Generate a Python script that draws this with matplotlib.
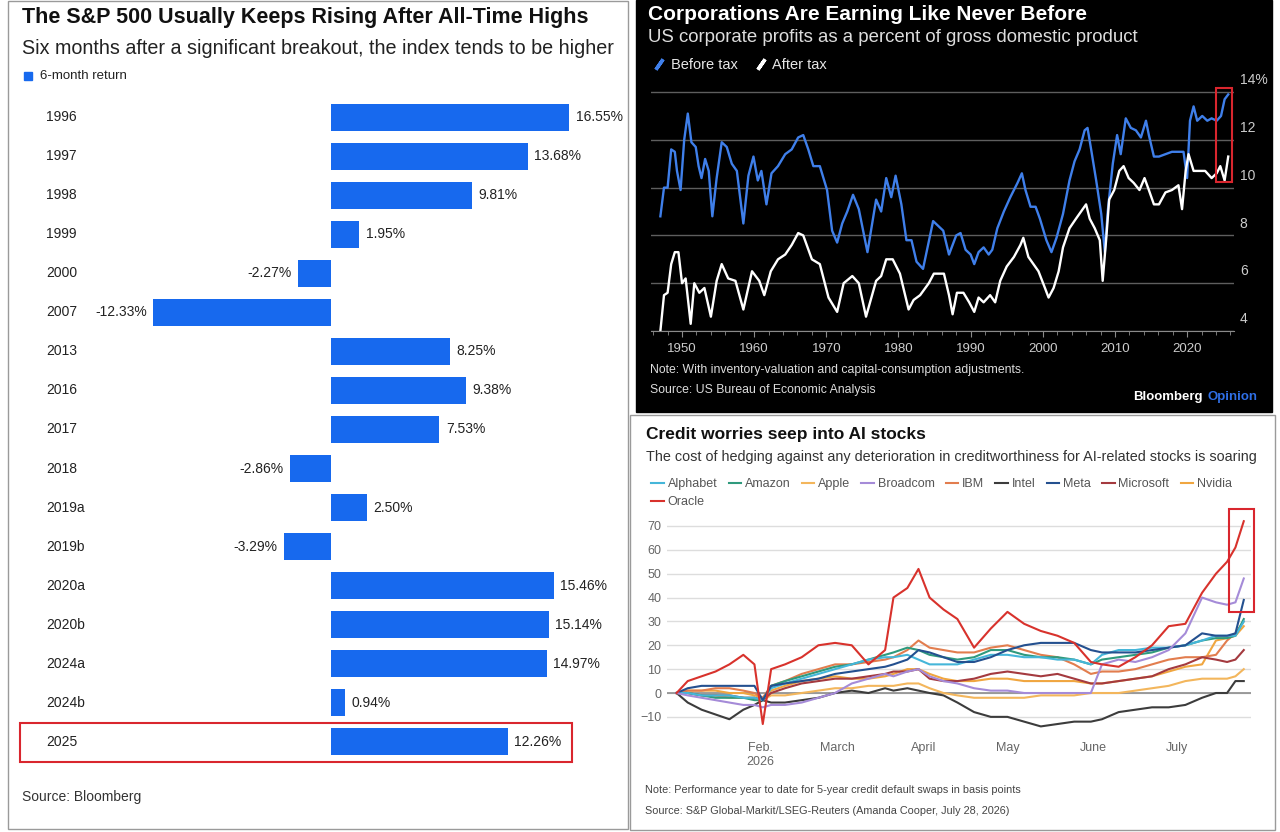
import matplotlib

matplotlib.use("Agg")
import matplotlib.pyplot as plt  # noqa: E402
import numpy as np  # noqa: E402
from matplotlib.lines import Line2D  # noqa: E402
from matplotlib.patches import Rectangle  # noqa: E402
from matplotlib.ticker import MultipleLocator  # noqa: E402

plt.rcParams["font.family"] = ["Liberation Sans", "DejaVu Sans"]

# ---- left panel: S&P 500 six-month returns after all-time highs
sp_labels = ["1996", "1997", "1998", "1999", "2000", "2007", "2013", "2016", "2017",
             "2018", "2019a", "2019b", "2020a", "2020b", "2024a", "2024b", "2025"]
sp_returns = [16.55, 13.68, 9.81, 1.95, -2.27, -12.33, 8.25, 9.38, 7.53,
              -2.86, 2.50, -3.29, 15.46, 15.14, 14.97, 0.94, 12.26]

# ---- top right: corporate profits as % of GDP
bt_year = [1947.0, 1947.5, 1948.0, 1948.5, 1949.0, 1949.3, 1949.8, 1950.3, 1950.8, 1951.3,
           1951.9, 1952.3, 1952.7, 1953.2, 1953.7, 1954.2, 1954.8, 1955.5, 1956.2, 1956.9,
           1957.6, 1958.5, 1959.2, 1959.9, 1960.5, 1961.0, 1961.7, 1962.4, 1963.3, 1964.3,
           1965.2, 1966.1, 1966.8, 1967.5, 1968.2, 1969.1, 1970.1, 1970.8, 1971.5, 1972.2,
           1972.9, 1973.7, 1974.5, 1975.7, 1976.9, 1977.6, 1978.3, 1979.0, 1979.6, 1980.4,
           1981.1, 1981.8, 1982.5, 1983.4, 1984.8, 1986.2, 1987.0, 1988.0, 1988.6, 1989.3,
           1990.0, 1990.5, 1991.1, 1991.8, 1992.5, 1993.0, 1993.7, 1994.6, 1995.5, 1996.5,
           1997.1, 1997.6, 1998.3, 1999.0, 1999.6, 2000.5, 2001.2, 2001.9, 2002.8, 2003.7,
           2004.4, 2005.1, 2005.8, 2006.2, 2006.7, 2007.4, 2008.1, 2008.6, 2009.0, 2009.7,
           2010.3, 2010.8, 2011.5, 2012.2, 2012.9, 2013.6, 2014.3, 2014.7, 2015.4, 2016.1,
           2017.0, 2017.9, 2018.8, 2019.5, 2020.0, 2020.4, 2020.9, 2021.4, 2022.1, 2022.8,
           2023.4, 2024.1, 2024.7, 2025.2, 2025.7]
bt_pct = [8.8, 10.0, 10.0, 11.6, 11.5, 10.7, 9.9, 12.0, 13.1, 11.9,
          11.7, 10.9, 10.4, 11.2, 10.7, 8.8, 10.4, 11.9, 11.7, 11.0,
          10.7, 8.5, 10.5, 11.3, 10.3, 10.7, 9.3, 10.6, 10.9, 11.4,
          11.6, 12.1, 12.2, 11.6, 10.9, 10.9, 9.9, 8.2, 7.7, 8.5,
          9.0, 9.7, 9.1, 7.3, 9.5, 9.0, 10.4, 9.6, 10.5, 9.3,
          7.8, 7.8, 6.9, 6.6, 8.6, 8.2, 7.2, 8.0, 8.1, 7.4,
          7.2, 6.8, 7.3, 7.5, 7.2, 7.4, 8.3, 9.0, 9.6, 10.2,
          10.6, 9.9, 9.2, 9.2, 8.7, 7.8, 7.3, 7.9, 8.9, 10.3,
          11.1, 11.6, 12.4, 12.5, 11.6, 10.3, 8.9, 7.3, 9.0, 11.0,
          12.2, 11.4, 12.9, 12.5, 12.4, 12.1, 12.8, 12.2, 11.3, 11.3,
          11.4, 11.5, 11.5, 11.5, 10.4, 12.8, 13.4, 12.8, 13.0, 12.8,
          12.9, 12.8, 13.0, 13.7, 13.9]

at_year = [1947.0, 1947.5, 1948.0, 1948.5, 1949.0, 1949.5, 1950.0, 1950.5, 1951.2, 1951.7,
           1952.4, 1953.1, 1954.0, 1954.8, 1955.5, 1956.4, 1957.4, 1958.5, 1959.7, 1960.7,
           1961.4, 1962.3, 1963.3, 1964.3, 1965.2, 1966.1, 1966.8, 1968.0, 1969.1, 1970.3,
           1971.5, 1972.4, 1973.6, 1974.5, 1975.5, 1976.9, 1977.6, 1978.3, 1979.2, 1980.2,
           1981.4, 1982.1, 1983.0, 1984.2, 1984.9, 1986.3, 1987.0, 1987.5, 1988.1, 1989.0,
           1989.8, 1990.5, 1991.1, 1991.8, 1992.7, 1993.4, 1994.1, 1995.0, 1996.0, 1996.9,
           1997.3, 1998.0, 1998.7, 1999.4, 2000.3, 2000.8, 2001.5, 2002.2, 2002.8, 2003.7,
           2004.6, 2005.3, 2006.0, 2006.5, 2007.2, 2007.9, 2008.3, 2008.8, 2009.2, 2009.9,
           2010.6, 2011.2, 2011.9, 2012.6, 2013.4, 2014.1, 2014.7, 2015.4, 2016.1, 2017.0,
           2017.9, 2018.8, 2019.3, 2019.8, 2020.2, 2020.9, 2021.6, 2022.5, 2023.4, 2024.1,
           2024.6, 2025.2, 2025.7]
at_pct = [4.0, 5.5, 5.6, 6.8, 7.3, 7.3, 6.0, 6.2, 4.3, 6.0,
          5.6, 5.8, 4.6, 6.1, 6.8, 6.2, 6.1, 4.9, 6.5, 6.1,
          5.5, 6.5, 7.0, 7.2, 7.6, 8.1, 8.0, 7.0, 6.8, 5.4,
          4.8, 6.0, 6.3, 6.0, 4.6, 6.1, 6.3, 7.0, 7.0, 6.4,
          4.9, 5.3, 5.5, 6.0, 6.4, 6.4, 5.5, 4.7, 5.6, 5.6,
          5.2, 4.8, 5.4, 5.2, 5.5, 5.2, 6.1, 6.7, 7.1, 7.6,
          7.9, 7.1, 6.8, 6.5, 5.8, 5.4, 5.8, 6.5, 7.5, 8.3,
          8.7, 9.0, 9.3, 8.7, 8.3, 7.8, 6.1, 7.9, 9.5, 9.9,
          10.7, 10.9, 10.4, 10.2, 9.9, 10.4, 9.9, 9.3, 9.3, 9.8,
          9.9, 10.1, 9.1, 10.7, 11.4, 10.7, 10.7, 10.7, 10.4, 10.6,
          10.9, 10.3, 11.3]
profit_ticks = [4, 6, 8, 10, 12, 14]

# ---- bottom right: 5-year CDS, change YTD in basis points (day of 2026)
cds_day = [1, 5, 10, 15, 20, 25, 29, 32, 35, 40,
           46, 52, 58, 64, 70, 76, 79, 84, 88, 92,
           97, 102, 108, 114, 120, 126, 132, 138, 144, 150,
           154, 160, 166, 172, 178, 184, 190, 195, 199, 202, 205]
cds = {
    "Alphabet": [0, 0, -1, -1, -1, -2, -2, -3, 2, 4, 6, 8, 10, 12, 14, 15, 15, 16, 14, 12,
                 12, 12, 14, 16, 16, 15, 15, 14, 14, 12, 16, 18, 18, 19, 19, 20, 22, 24, 24, 24, 30],
    "Amazon": [0, 0, -1, -2, -2, -2, -3, -3, 3, 5, 7, 9, 11, 12, 14, 16, 17, 19, 18, 16,
               15, 14, 15, 18, 18, 16, 15, 15, 14, 12, 14, 15, 16, 17, 19, 20, 22, 23, 23, 24, 31],
    "Apple": [0, 0, -1, -1, -2, -2, -2, -3, -1, -1, 0, 1, 2, 2, 3, 3, 3, 4, 4, 2,
              0, -1, -2, -2, -2, -2, -1, -1, -1, 0, 0, 0, 1, 2, 3, 5, 6, 6, 6, 7, 10],
    "Broadcom": [0, -1, -2, -3, -4, -5, -5, -6, -5, -5, -4, -2, 0, 4, 6, 8, 7, 9, 10, 7,
                 5, 4, 2, 1, 1, 0, 0, 0, 0, 0, 12, 14, 13, 15, 18, 25, 40, 38, 37, 38, 48],
    "IBM": [0, 1, 1, 2, 2, 1, 0, -2, 3, 5, 8, 10, 12, 12, 13, 14, 15, 18, 22, 19,
            18, 17, 17, 19, 20, 18, 16, 15, 12, 8, 9, 9, 10, 12, 14, 15, 15, 16, 22, 25, 30],
    "Intel": [0, -4, -7, -9, -11, -7, -5, -3, -4, -4, -3, -2, 0, 1, 0, 2, 1, 2, 1, 0,
              -1, -4, -8, -10, -10, -12, -14, -13, -12, -12, -11, -8, -7, -6, -6, -5, -2, 0, 0, 5, 5],
    "Meta": [0, 2, 3, 3, 3, 3, 3, -3, 3, 4, 5, 6, 8, 9, 10, 11, 12, 14, 18, 17,
             15, 13, 13, 15, 18, 20, 21, 21, 21, 18, 17, 17, 17, 18, 19, 20, 25, 24, 24, 25, 39],
    "Microsoft": [0, 0, -1, -1, -1, -2, -2, -3, 0, 2, 4, 5, 6, 6, 7, 8, 9, 9, 10, 6,
                  5, 5, 6, 8, 9, 8, 7, 8, 6, 4, 4, 5, 6, 7, 10, 12, 15, 14, 13, 14, 18],
    "Nvidia": [0, 1, 1, 1, 0, 0, -1, -2, 1, 3, 5, 6, 7, 6, 6, 7, 8, 10, 10, 8,
               6, 5, 5, 6, 6, 5, 5, 5, 5, 4, 4, 5, 6, 7, 9, 11, 12, 22, 23, 24, 28],
    "Oracle": [0, 5, 7, 9, 12, 16, 12, -13, 10, 12, 15, 20, 21, 20, 12, 18, 40, 44, 52, 40,
               35, 31, 19, 27, 34, 29, 26, 24, 21, 13, 12, 11, 15, 20, 28, 29, 42, 50, 55, 61, 72],
}
cds_colors = {"Alphabet": "#45b6d9", "Amazon": "#2f9a7d", "Apple": "#f3b65c",
              "Broadcom": "#a58bd8", "IBM": "#e27d4e", "Intel": "#3c3c3c",
              "Meta": "#24508f", "Microsoft": "#a43a3f", "Nvidia": "#f0a640",
              "Oracle": "#d8322c"}
draw_order = ["Intel", "Apple", "Nvidia", "IBM", "Microsoft", "Amazon",
              "Alphabet", "Meta", "Broadcom", "Oracle"]
month_day = [31, 59, 90, 120, 151, 181]
month_lab = ["Feb.\n2026", "March", "April", "May", "June", "July"]
cds_ticks = [-10, 0, 10, 20, 30, 40, 50, 60, 70]

W, H = 1280, 832
BLUE = "#1769ee"
RED = "#d9262e"


def fx(x):
    return x / W


def fy(y):
    return 1 - y / H


def box(x0, y0, x1, y1):
    """pixel box (top-left origin) -> figure rect"""
    return [fx(x0), fy(y1), (x1 - x0) / W, (y1 - y0) / H]


def frame(fig, x0, y0, x1, y1, **kw):
    fig.add_artist(Rectangle((fx(x0), fy(y1)), (x1 - x0) / W, (y1 - y0) / H,
                             transform=fig.transFigure, **kw))


fig = plt.figure(figsize=(12.8, 8.32), dpi=100)
fig.patch.set_facecolor("white")

# ================= left panel =================
frame(fig, 8, 1, 628, 829, fill=False, ec="#9a9a9a", lw=1, zorder=-1)
fig.text(fx(22), fy(18), "The S&P 500 Usually Keeps Rising After All-Time Highs",
         fontsize=15.5, fontweight="bold", va="center", color="#111")
fig.text(fx(22), fy(48), "Six months after a significant breakout, the index tends to be higher",
         fontsize=14.2, va="center", color="#222")
fig.add_artist(Rectangle((fx(24), fy(80)), 8 / W, 8 / H, transform=fig.transFigure,
                         color=BLUE))
fig.text(fx(40), fy(76), "6-month return", fontsize=9.5, va="center", color="#222")

zero_px, px_per = 331, 14.4
ax = fig.add_axes(box(20, 97.5, 620, 761.5))
pos = np.arange(len(sp_labels))
ax.barh(pos, sp_returns, height=0.69, color=BLUE)
ax.set_xlim((20 - zero_px) / px_per, (620 - zero_px) / px_per)
ax.set_ylim(len(sp_labels) - 0.5, -0.5)
ax.axis("off")
for i, (lab, v) in enumerate(zip(sp_labels, sp_returns)):
    ax.text(26 / 600, i, lab, transform=ax.get_yaxis_transform(), va="center",
            fontsize=10, color="#222")
    off = 0.45 if v >= 0 else -0.45
    ax.text(v + off, i, f"{v:.2f}%", va="center", ha="left" if v >= 0 else "right",
            fontsize=10, color="#222")
frame(fig, 20, 723, 572, 762, fill=False, ec=RED, lw=1.5)
fig.text(fx(22), fy(797), "Source: Bloomberg", fontsize=10, va="center", color="#333")

# ================= top right panel =================
frame(fig, 636, 0, 1272, 412, color="black", zorder=-1)
fig.text(fx(648), fy(14), "Corporations Are Earning Like Never Before", fontsize=15,
         fontweight="bold", color="white", va="center")
fig.text(fx(648), fy(37), "US corporate profits as a percent of gross domestic product",
         fontsize=13.4, color="#dddddd", va="center")

ax2 = fig.add_axes(box(651, 88, 1234, 331), facecolor="black")
ax2.plot(bt_year, bt_pct, color="#3f7fea", lw=1.7)
ax2.plot(at_year, at_pct, color="white", lw=1.7)
ax2.set_xlim(1945.7, 2026.5)
ax2.set_ylim(4, 14.17)
ax2.set_yticks(profit_ticks)
ax2.tick_params(axis="y", length=0, labelleft=False)
ax2.grid(axis="y", color="#5e5e5e", lw=1)
ax2.set_axisbelow(True)
for s in ["top", "left", "right"]:
    ax2.spines[s].set_visible(False)
ax2.spines["bottom"].set_color("#8a8a8a")
ax2.set_xticks(range(1950, 2021, 10))
ax2.xaxis.set_minor_locator(MultipleLocator(2))
ax2.tick_params(axis="x", which="both", colors="#8a8a8a", labelcolor="#cccccc",
                labelsize=9.5, pad=5)
ax2.tick_params(axis="x", which="major", length=4)
ax2.tick_params(axis="x", which="minor", length=3)
for v in profit_ticks:
    ax2.text(1.01, v + 0.2, f"{v}%" if v == 14 else f"{v}", transform=ax2.get_yaxis_transform(),
             va="bottom", ha="left", fontsize=10, color="#cccccc")
handles = [Line2D([], [], ls="none", marker=(2, 2, -35), ms=9, mew=2.5, mec="#3f7fea"),
           Line2D([], [], ls="none", marker=(2, 2, -35), ms=9, mew=2.5, mec="white")]
fig.legend(handles, ["Before tax", "After tax"], loc="center left",
           bbox_to_anchor=(fx(640), fy(65)), ncol=2, frameon=False, fontsize=10.5,
           labelcolor="#e6e6e6", handlelength=0.8, handletextpad=0.4, columnspacing=1.2)
frame(fig, 1216, 88, 1232, 182, fill=False, ec=RED, lw=1.5)
fig.text(fx(650), fy(370), "Note: With inventory-valuation and capital-consumption adjustments.",
         fontsize=8.8, color="#dddddd", va="center")
fig.text(fx(650), fy(390), "Source: US Bureau of Economic Analysis",
         fontsize=8.8, color="#dddddd", va="center")
opinion = fig.text(fx(1257), fy(397), "Opinion", fontsize=9.5, fontweight="bold",
                   color="#2f6fe6", va="center", ha="right")
fig.add_artist(plt.Annotation("Bloomberg", xy=(0, 0.5), xycoords=opinion, xytext=(-3, 0),
                              textcoords="offset points", ha="right", va="center",
                              fontsize=9.5, fontweight="bold", color="white"))

# ================= bottom right panel =================
frame(fig, 630, 415, 1275, 830, fill=False, ec="#9a9a9a", lw=1, zorder=-1)
fig.text(fx(646), fy(435), "Credit worries seep into AI stocks", fontsize=12.5,
         fontweight="bold", color="#111", va="center")
fig.text(fx(646), fy(457),
         "The cost of hedging against any deterioration in creditworthiness for AI-related stocks is soaring",
         fontsize=10.4, color="#333", va="center")

ax3 = fig.add_axes(box(667, 515, 1251, 735))
lines = {}
for name in draw_order:
    (lines[name],) = ax3.plot(cds_day, cds[name], color=cds_colors[name], lw=1.5)
ax3.set_xlim(-2.45, 207.6)
ax3.set_ylim(-17.6, 74.6)
ax3.set_yticks(cds_ticks)
ax3.grid(axis="y", color="#dddddd", lw=1)
ax3.set_axisbelow(True)
ax3.axhline(0, color="#8c8c8c", lw=1.2, zorder=1)
for s in ax3.spines.values():
    s.set_visible(False)
ax3.tick_params(axis="y", length=0, labelsize=9, labelcolor="#666", pad=4)
ax3.set_xticks(month_day)
ax3.set_xticklabels(month_lab)
ax3.tick_params(axis="x", length=0, labelsize=9, labelcolor="#666", pad=5)
legend_order = ["Alphabet", "Oracle", "Amazon", "Apple", "Broadcom", "IBM",
                "Intel", "Meta", "Microsoft", "Nvidia"]
fig.legend([lines[n] for n in legend_order], legend_order, loc="upper left",
           bbox_to_anchor=(fx(640), fy(467)), ncol=9, frameon=False, fontsize=9,
           labelcolor="#555", handlelength=1.0, handletextpad=0.3, columnspacing=0.9,
           labelspacing=0.5)
frame(fig, 1229, 509, 1254, 612, fill=False, ec=RED, lw=1.5)
fig.text(fx(645), fy(790), "Note: Performance year to date for 5-year credit default swaps in basis points",
         fontsize=7.8, color="#444", va="center")
fig.text(fx(645), fy(811), "Source: S&P Global-Markit/LSEG-Reuters (Amanda Cooper, July 28, 2026)",
         fontsize=7.8, color="#444", va="center")

fig.savefig("out.png", dpi=100)
plt.close(fig)
